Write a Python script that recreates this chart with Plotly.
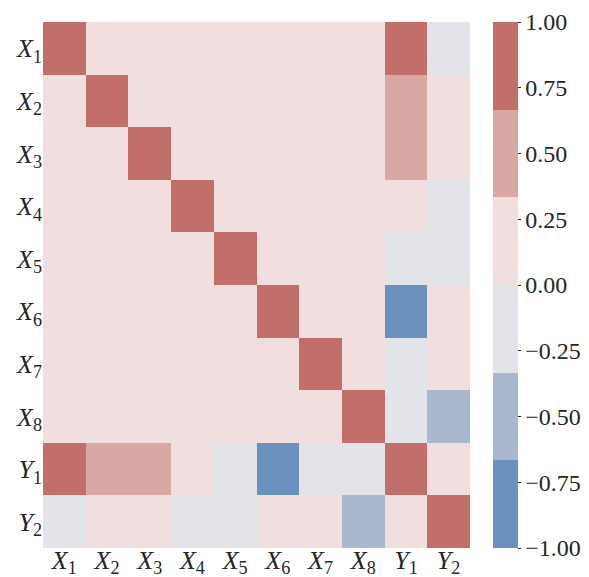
import plotly.graph_objects as go

names = ["X1", "X2", "X3", "X4", "X5", "X6", "X7", "X8", "Y1", "Y2"]
tick_labels = ["<i>X</i><sub>1</sub>", "<i>X</i><sub>2</sub>", "<i>X</i><sub>3</sub>",
               "<i>X</i><sub>4</sub>", "<i>X</i><sub>5</sub>", "<i>X</i><sub>6</sub>",
               "<i>X</i><sub>7</sub>", "<i>X</i><sub>8</sub>", "<i>Y</i><sub>1</sub>",
               "<i>Y</i><sub>2</sub>"]

# correlation matrix (rows top to bottom, columns left to right)
corr = [
    [1.00, 0.05, 0.05, 0.05, 0.05, 0.05, 0.05, 0.05, 0.80, -0.10],
    [0.05, 1.00, 0.05, 0.05, 0.05, 0.05, 0.05, 0.05, 0.40, 0.05],
    [0.05, 0.05, 1.00, 0.05, 0.05, 0.05, 0.05, 0.05, 0.40, 0.05],
    [0.05, 0.05, 0.05, 1.00, 0.05, 0.05, 0.05, 0.05, 0.05, -0.10],
    [0.05, 0.05, 0.05, 0.05, 1.00, 0.05, 0.05, 0.05, -0.05, -0.10],
    [0.05, 0.05, 0.05, 0.05, 0.05, 1.00, 0.05, 0.05, -0.80, 0.05],
    [0.05, 0.05, 0.05, 0.05, 0.05, 0.05, 1.00, 0.05, -0.05, 0.05],
    [0.05, 0.05, 0.05, 0.05, 0.05, 0.05, 0.05, 1.00, -0.05, -0.45],
    [0.80, 0.40, 0.40, 0.05, -0.05, -0.80, -0.05, -0.05, 1.00, 0.05],
    [-0.10, 0.05, 0.05, -0.10, -0.10, 0.05, 0.05, -0.45, 0.05, 1.00],
]

bin_colors = ["#6C91BF", "#A9B8CF", "#E3E4E9", "#F1DEDE", "#D9A7A4", "#C26E6B"]
cb_ticks = [-1.0, -0.75, -0.5, -0.25, 0.0, 0.25, 0.5, 0.75, 1.0]

colorscale = []
n = len(bin_colors)
for i, c in enumerate(bin_colors):
    colorscale.append([i / n, c])
    colorscale.append([(i + 1) / n, c])

cb_text = [("−" if v < 0 else "") + f"{abs(v):.2f}" for v in cb_ticks]

font_family = "Liberation Serif"
text_color = "#262626"

fig = go.Figure(go.Heatmap(
    z=corr, x=names, y=names,
    zmin=-1, zmax=1,
    colorscale=colorscale,
    xgap=0, ygap=0,
    colorbar=dict(
        x=1.054, xanchor="left", xpad=0,
        y=0.5, yanchor="middle", ypad=0,
        len=1, lenmode="fraction",
        thickness=25, outlinewidth=0,
        tickvals=cb_ticks, ticktext=cb_text,
        ticks="outside", ticklen=3, tickwidth=1, tickcolor=text_color,
        tickfont=dict(family=font_family, size=24, color=text_color),
    ),
))

fig.update_layout(
    width=581, height=569,
    margin=dict(l=35, r=119, t=14, b=29, autoexpand=False),
    paper_bgcolor="white", plot_bgcolor="white",
    font=dict(family=font_family, size=24, color=text_color),
)
fig.update_xaxes(tickvals=names, ticktext=tick_labels, showgrid=False, zeroline=False,
                 ticks="", showline=False, automargin=False, ticklabelstandoff=-6,
                 tickfont=dict(size=26))
fig.update_yaxes(tickvals=names, ticktext=tick_labels, showgrid=False, zeroline=False,
                 ticks="", showline=False, automargin=False, autorange="reversed",
                 tickfont=dict(size=26))

fig.write_html("out.html")
